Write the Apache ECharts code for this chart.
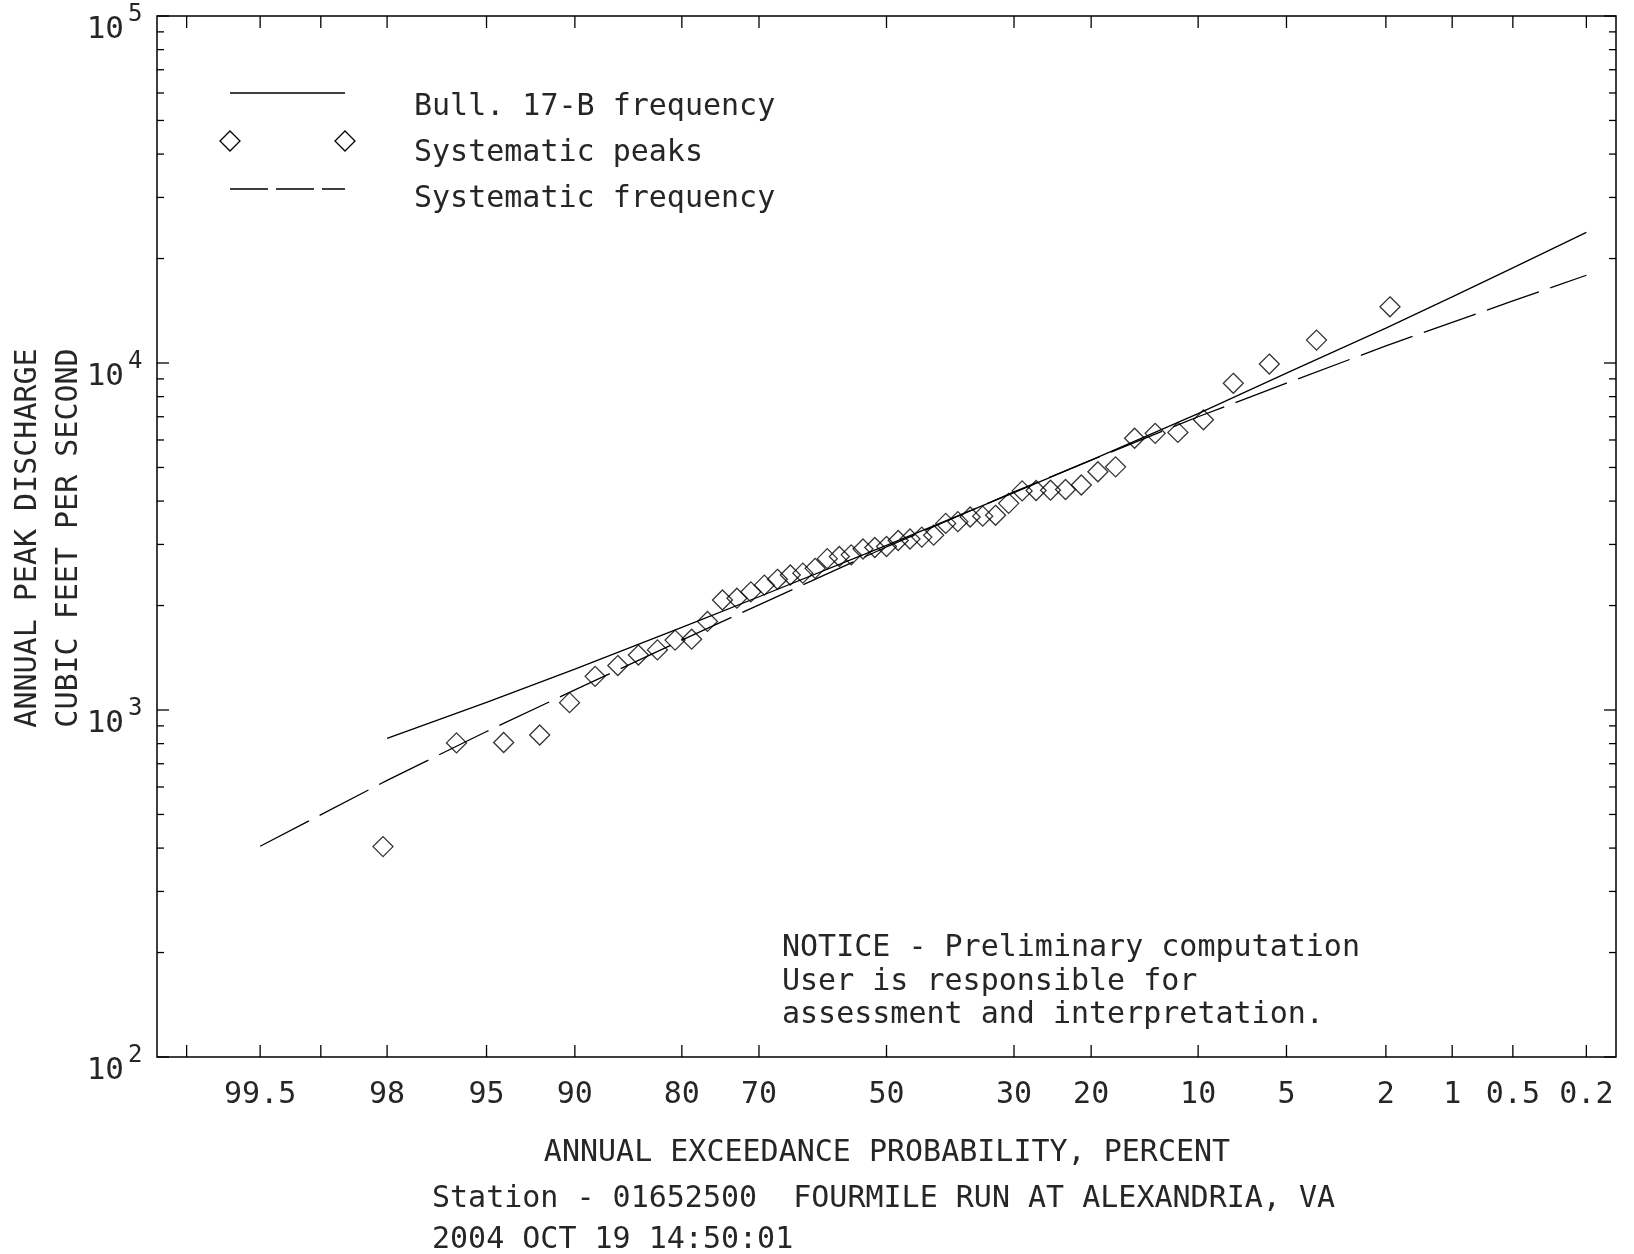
<!DOCTYPE html>
<html><head><meta charset="utf-8">
<script src="https://cdn.jsdelivr.net/npm/echarts@6/dist/echarts.min.js"></script>
<style>html,body{margin:0;padding:0;background:#fff}#c{width:1634px;height:1254px}</style>
</head><body><div id="c"></div>
<script>
// ---- data (exceedance probability in percent, discharge in cfs) ----
const peakProb = [1.92,3.85,5.77,7.69,9.62,11.54,13.46,15.38,17.31,19.23,21.15,23.08,25.00,26.92,28.85,30.77,32.69,34.62,36.54,38.46,40.38,42.31,44.23,46.15,48.08,50.00,51.92,53.85,55.77,57.69,59.62,61.54,63.46,65.38,67.31,69.23,71.15,73.08,75.00,76.92,78.85,80.77,82.69,84.62,86.54,88.46,90.38,92.31,94.23,96.15,98.08];
const peakQ = [14520,11640,9930,8740,6860,6310,6270,6070,5020,4860,4450,4320,4300,4290,4280,3940,3640,3620,3600,3490,3450,3190,3150,3110,3080,2960,2940,2910,2800,2770,2730,2560,2480,2450,2380,2290,2190,2100,2075,1800,1600,1590,1490,1440,1343,1250,1050,847,806,804,404];

const bullProb = [98,95,90,80,70,50,30,20,10,5,2,1,0.5,0.2];
const bullQ = [828,1052,1312,1730,2120,2980,4230,5250,7150,9350,12600,15500,18800,23800];

const systProb = [99.5,98,95,90,80,70,50,30,20,10,5,2,1,0.5,0.2];
const systQ = [405,627,867,1143,1590,2010,2950,4250,5250,7000,8750,11200,13100,15100,17900];

const xTickProbs = [99.8,99.5,99,98,95,90,80,70,50,30,20,10,5,2,1,0.5,0.2];
const xTickLabels = ['','99.5','','98','95','90','80','70','50','30','20','10','5','2','1','0.5','0.2'];
const yTicks = [100,200,300,400,500,600,700,800,900,1000,2000,3000,4000,5000,6000,7000,8000,9000,10000,20000,30000,40000,50000,60000,70000,80000,90000,100000];
const yLabelValues = [100,1000,10000,100000];

const legendLabels = ['Bull. 17-B frequency','Systematic peaks','Systematic frequency'];
const noticeLines = ['NOTICE - Preliminary computation','User is responsible for','assessment and interpretation.'];
const xTitle = 'ANNUAL EXCEEDANCE PROBABILITY, PERCENT';
const yTitle1 = 'ANNUAL PEAK DISCHARGE';
const yTitle2 = 'CUBIC FEET PER SECOND';
const station = 'Station - 01652500  FOURMILE RUN AT ALEXANDRIA, VA';
const stamp = '2004 OCT 19 14:50:01';

// ---- normal probability scale (axis transform) ----
function invNorm(p){
  const a=[-3.969683028665376e+01,2.209460984245205e+02,-2.759285104469687e+02,1.383577518672690e+02,-3.066479806614716e+01,2.506628277459239e+00];
  const b=[-5.447609879822406e+01,1.615858368580409e+02,-1.556989798598866e+02,6.680131188771972e+01,-1.328068155288572e+01];
  const c=[-7.784894002430293e-03,-3.223964580411365e-01,-2.400758277161838e+00,-2.549732539343734e+00,4.374664141464968e+00,2.938163982698783e+00];
  const d=[7.784695709041462e-03,3.224671290700398e-01,2.445134137142996e+00,3.754408661907416e+00];
  const pl=0.02425, ph=1-pl; let q,r;
  if(p<pl){q=Math.sqrt(-2*Math.log(p));return (((((c[0]*q+c[1])*q+c[2])*q+c[3])*q+c[4])*q+c[5])/((((d[0]*q+d[1])*q+d[2])*q+d[3])*q+1);}
  if(p<=ph){q=p-0.5;r=q*q;return (((((a[0]*r+a[1])*r+a[2])*r+a[3])*r+a[4])*r+a[5])*q/(((((b[0]*r+b[1])*r+b[2])*r+b[3])*r+b[4])*r+1);}
  q=Math.sqrt(-2*Math.log(1-p));return -(((((c[0]*q+c[1])*q+c[2])*q+c[3])*q+c[4])*q+c[5])/((((d[0]*q+d[1])*q+d[2])*q+d[3])*q+1);
}
const probToZ = p => invNorm(1 - p/100);

const FONT = '"DejaVu Sans Mono", "Liberation Mono", monospace';
const TXT = '#262626';
const font = s => s + 'px ' + FONT;

const chart = echarts.init(document.getElementById('c'), null, {renderer:'canvas'});

const option = {
  animation: false,
  backgroundColor: '#fff',
  grid: {left:157, right:18, top:16, bottom:197, show:true, borderColor:'#000', borderWidth:1.5, backgroundColor:'transparent'},
  xAxis: {type:'value', min:-3, max:3, axisLine:{show:false}, axisTick:{show:false}, axisLabel:{show:false}, splitLine:{show:false}},
  yAxis: {type:'log', logBase:10, min:100, max:100000,
    axisLine:{show:false}, axisTick:{show:false}, splitLine:{show:false}, minorTick:{show:false}, axisLabel:{show:false}},
  graphic: [
    {type:'line', shape:{x1:230,y1:93,x2:345,y2:93}, style:{stroke:'#000', lineWidth:1.3}},
    {type:'polygon', shape:{points:[[230,131],[240,141],[230,151],[220,141]]}, style:{fill:'none', stroke:'#000', lineWidth:1.3}},
    {type:'polygon', shape:{points:[[345,131],[355,141],[345,151],[335,141]]}, style:{fill:'none', stroke:'#000', lineWidth:1.3}},
    {type:'line', shape:{x1:230,y1:189,x2:345,y2:189}, style:{stroke:'#000', lineWidth:1.3, lineDash:[38,8]}},
    {type:'text', x:414, y:107, style:{text:legendLabels[0], font:font(30), fill:TXT, align:'left', verticalAlign:'middle'}},
    {type:'text', x:414, y:153, style:{text:legendLabels[1], font:font(30), fill:TXT, align:'left', verticalAlign:'middle'}},
    {type:'text', x:414, y:199, style:{text:legendLabels[2], font:font(30), fill:TXT, align:'left', verticalAlign:'middle'}},
    {type:'text', x:782, y:948, style:{text:noticeLines[0], font:font(30), fill:TXT, align:'left', verticalAlign:'middle'}},
    {type:'text', x:782, y:982, style:{text:noticeLines[1], font:font(30), fill:TXT, align:'left', verticalAlign:'middle'}},
    {type:'text', x:782, y:1015, style:{text:noticeLines[2], font:font(30), fill:TXT, align:'left', verticalAlign:'middle'}},
    {type:'text', x:887, y:1153, style:{text:xTitle, font:font(30), fill:TXT, align:'center', verticalAlign:'middle'}},
    {type:'text', x:432, y:1199, style:{text:station, font:font(30), fill:TXT, align:'left', verticalAlign:'middle'}},
    {type:'text', x:432, y:1240, style:{text:stamp, font:font(30), fill:TXT, align:'left', verticalAlign:'middle'}},
    {type:'text', x:28, y:538, rotation:Math.PI/2, style:{text:yTitle1, font:font(30), fill:TXT, align:'center', verticalAlign:'middle'}},
    {type:'text', x:69, y:538, rotation:Math.PI/2, style:{text:yTitle2, font:font(30), fill:TXT, align:'center', verticalAlign:'middle'}}
  ],
  series: [
    {type:'custom', coordinateSystem:'cartesian2d', silent:true, z:5, clip:false,
      data: xTickProbs.map((p,i)=>[probToZ(p), 100, i]),
      renderItem: (params, api) => {
        const i = api.value(2), z = api.value(0);
        const b = api.coord([z, 100]), t = api.coord([z, 100000]);
        const ch = [
          {type:'line', shape:{x1:b[0],y1:b[1],x2:b[0],y2:b[1]-12}, style:{stroke:'#000', lineWidth:1.3}},
          {type:'line', shape:{x1:t[0],y1:t[1],x2:t[0],y2:t[1]+12}, style:{stroke:'#000', lineWidth:1.3}}
        ];
        if (xTickLabels[i]) ch.push({type:'text', x:b[0], y:b[1]+38, style:{text:xTickLabels[i], font:font(30), fill:TXT, align:'center', verticalAlign:'middle'}});
        return {type:'group', children:ch};
      }},
    {type:'custom', coordinateSystem:'cartesian2d', silent:true, z:5, clip:false,
      data: yTicks.map(v=>[-3, v]),
      renderItem: (params, api) => {
        const v = api.value(1);
        const l = api.coord([-3, v]), r = api.coord([3, v]);
        const lg = Math.log10(v);
        const len = Math.abs(lg - Math.round(lg)) < 1e-6 ? 12 : 7;
        return {type:'group', children:[
          {type:'line', shape:{x1:l[0],y1:l[1],x2:l[0]+len,y2:l[1]}, style:{stroke:'#000', lineWidth:1.3}},
          {type:'line', shape:{x1:r[0],y1:r[1],x2:r[0]-len,y2:r[1]}, style:{stroke:'#000', lineWidth:1.3}}
        ]};
      }},
    {type:'custom', coordinateSystem:'cartesian2d', silent:true, z:5, clip:false,
      data: yLabelValues.map(v=>[-3, v]),
      renderItem: (params, api) => {
        const v = api.value(1);
        const l = api.coord([-3, v]);
        const e = String(Math.round(Math.log10(v)));
        return {type:'group', children:[
          {type:'text', x:l[0]-33, y:l[1]+14, style:{text:'10', font:font(31), fill:TXT, align:'right', verticalAlign:'middle'}},
          {type:'text', x:l[0]-29, y:l[1]-1, style:{text:e, font:font(24), fill:TXT, align:'left', verticalAlign:'middle'}}
        ]};
      }},
    {name:'Bull. 17-B frequency', type:'line', data: bullProb.map((p,i)=>[probToZ(p), bullQ[i]]),
      symbol:'none', lineStyle:{color:'#000', width:1.3}, z:3, silent:true},
    {name:'Systematic frequency', type:'line', data: systProb.map((p,i)=>[probToZ(p), systQ[i]]),
      symbol:'none', lineStyle:{color:'#000', width:1.3, type:[55,12]}, z:3, silent:true},
    {name:'Systematic peaks', type:'scatter', data: peakProb.map((p,i)=>[probToZ(p), peakQ[i]]),
      symbol:'diamond', symbolSize:20, z:4, silent:true,
      itemStyle:{color:'rgba(0,0,0,0)', borderColor:'#000', borderWidth:1.3}}
  ]
};
chart.setOption(option);
</script>
</body></html>
